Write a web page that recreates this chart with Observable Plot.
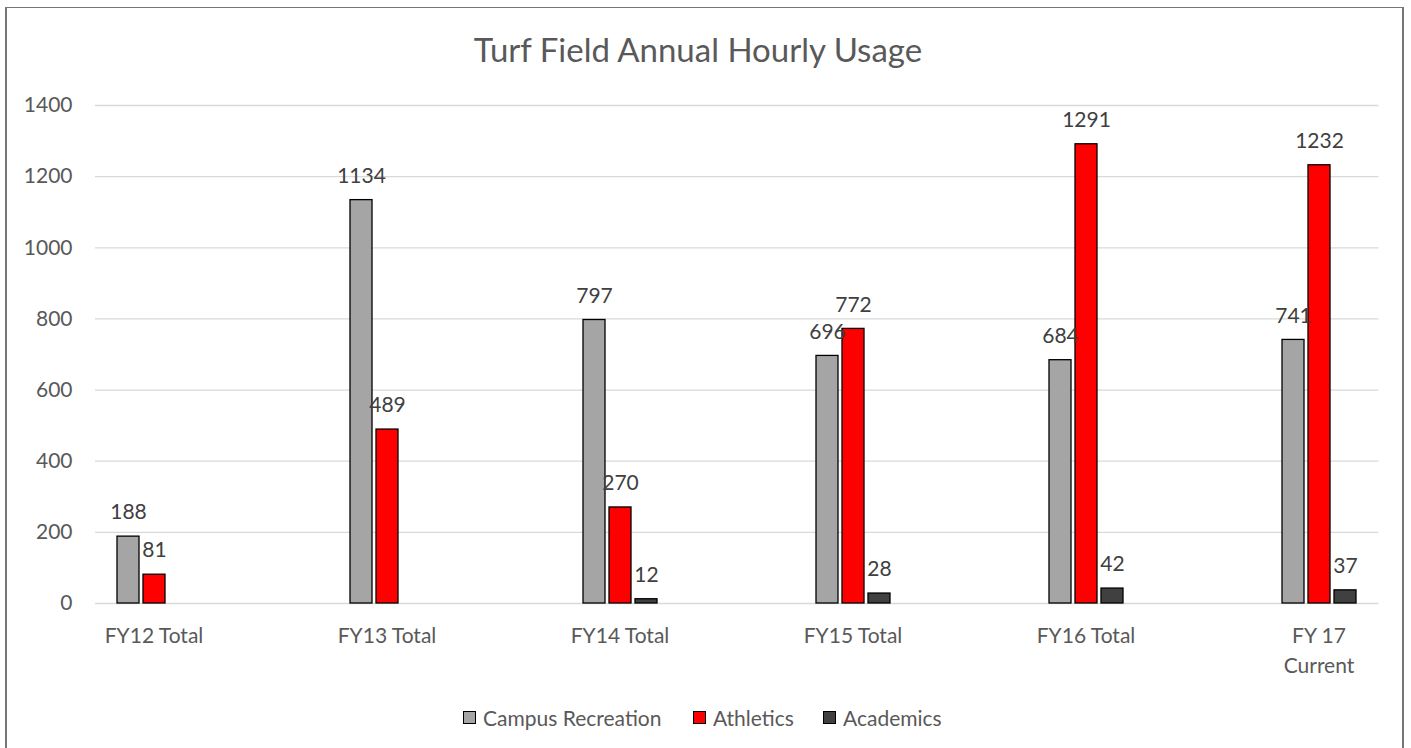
<!DOCTYPE html>
<html>
<head>
<meta charset="utf-8">
<script src="https://cdn.jsdelivr.net/npm/d3@7"></script>
<script src="https://cdn.jsdelivr.net/npm/@observablehq/plot@0.6"></script>
<style>
  html, body { margin: 0; padding: 0; background: #fff; width: 1411px; height: 748px; overflow: hidden; }
  body { position: relative; font-family: Lato, "Open Sans", sans-serif; }
  #frame { position: absolute; left: 5px; top: 7px; width: 1399px; height: 760px; border: 1px solid #767676; border-left-width: 2px; border-right-width: 2px; box-sizing: border-box; }
  #title { position: absolute; left: 0; top: 28px; width: 1396px; text-align: center; font-size: 33px; color: #595959; line-height: 42px; }
  #chart { position: absolute; left: 0; top: 80px; }
  #legend { position: absolute; left: 0; top: 705px; width: 1411px; height: 24px; }
  .item { position: absolute; top: 0; display: flex; align-items: center; height: 24px; font-size: 21px; color: #595959; }
  .sw { width: 11px; height: 11px; border: 1px solid #000; margin-right: 7px; }
</style>
</head>
<body>
<div id="frame"></div>
<div id="title">Turf Field Annual Hourly Usage</div>
<div id="chart"></div>
<div id="legend"></div>
<script>
const categories = ["FY12 Total", "FY13 Total", "FY14 Total", "FY15 Total", "FY16 Total", "FY 17\nCurrent"];
const seriesNames = ["Campus Recreation", "Athletics", "Academics"];
const campusRecreation = [188, 1134, 797, 696, 684, 741];
const athletics = [81, 489, 270, 772, 1291, 1232];
const academics = [null, null, 12, 28, 42, 37];
const colors = ["#a5a5a5", "#ff0000", "#404040"];
const yTicks = [0, 200, 400, 600, 800, 1000, 1200, 1400];

const seriesValues = [campusRecreation, athletics, academics];
const rows = [];
categories.forEach((c, i) => {
  seriesNames.forEach((s, j) => {
    const v = seriesValues[j][i];
    if (v != null) rows.push({category: c, series: s, value: v});
  });
});

const W = 1411, ML = 94, MR = 34;
const plotW = W - ML - MR;
const facetStep = plotW / (categories.length - 0.5);
const facetBand = facetStep * 0.5;

const chart = Plot.plot({
  width: W,
  height: 600,
  marginTop: 25,
  marginBottom: 77,
  marginLeft: ML,
  marginRight: MR,
  style: {fontFamily: "Lato, 'Open Sans', sans-serif", background: "transparent"},
  fx: {domain: categories, paddingInner: 0.5, paddingOuter: 0, label: null},
  x: {domain: seriesNames, paddingInner: 0.173, paddingOuter: 0.83, axis: null},
  y: {domain: [0, 1400], ticks: yTicks, label: null, axis: null},
  color: {domain: seriesNames, range: colors},
  marks: [
    Plot.ruleY(yTicks, {stroke: "#d9d9d9", strokeWidth: 1.3, facetAnchor: "left", insetRight: -(plotW - facetBand)}),
    Plot.axisY(yTicks, {tickSize: 0, tickPadding: 23, fontSize: 21, fill: "#595959", label: null, facetAnchor: "left", tickFormat: d => String(d)}),
    Plot.axisFx({anchor: "bottom", tickSize: 0, tickPadding: 18, fontSize: 21, fill: "#595959", lineHeight: 1.43, label: null}),
    Plot.barY(rows, {fx: "category", x: "series", y: "value", fill: "series", stroke: "#000", strokeWidth: 1.3}),
    Plot.text(rows, {fx: "category", x: "series", y: "value", text: d => String(d.value), dy: -24, fontSize: 21, fill: "#404040", lineAnchor: "middle"})
  ]
});
document.getElementById("chart").appendChild(chart);

const legend = document.getElementById("legend");
const legendX = [463, 693, 823];
seriesNames.forEach((s, j) => {
  const it = document.createElement("div");
  it.className = "item";
  it.style.left = legendX[j] + "px";
  const sw = document.createElement("div");
  sw.className = "sw";
  sw.style.background = colors[j];
  it.appendChild(sw);
  const t = document.createElement("span");
  t.textContent = s;
  it.appendChild(t);
  legend.appendChild(it);
});
</script>
</body>
</html>
